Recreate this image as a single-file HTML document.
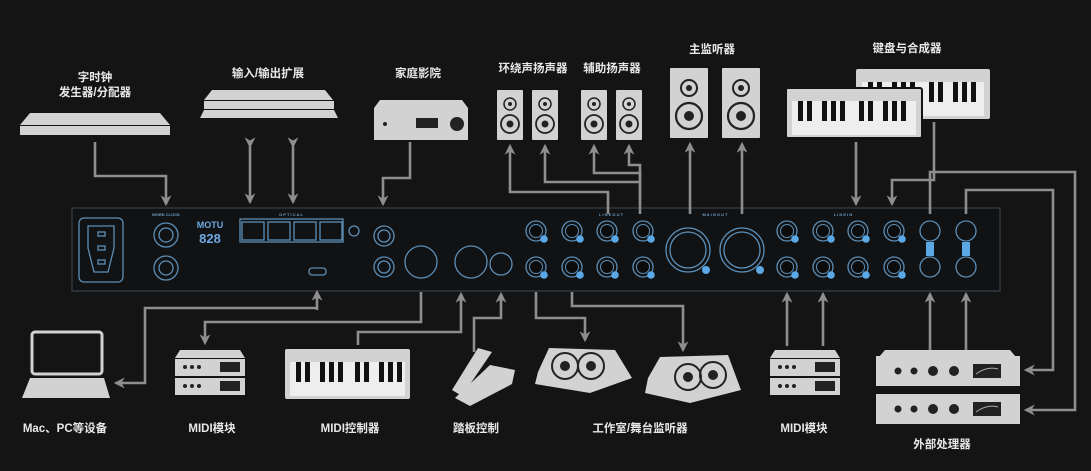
<!DOCTYPE html>
<html><head><meta charset="utf-8"><style>
html,body{margin:0;padding:0;background:#141414;}
svg{display:block}
text{font-family:"Liberation Sans","Noto Sans CJK SC",sans-serif;font-weight:bold;fill:#e8e8e8;font-size:11.5px;text-anchor:middle}
.l{stroke:#8e8e8e;stroke-width:2.6;fill:none}
.d{fill:#d2d2d2}
.b{stroke:#5c8fb8;stroke-width:1.3;fill:none}
.s{font-size:4px;fill:#6fa0c8}
</style></head><body>
<svg width="1091" height="471" viewBox="0 0 1091 471" xmlns="http://www.w3.org/2000/svg">
<defs>
<marker id="a" viewBox="0 0 10 10" refX="8" refY="5" markerWidth="4.2" markerHeight="4.2" orient="auto"><path d="M0,0 L10,5 L0,10 L3,5z" fill="#8e8e8e"/></marker>
<g id="jack"><circle r="10" class="b" stroke-width="1.8"/><circle r="6.5" fill="#0c0c0c" stroke="#5c8fb8" stroke-width="1"/><circle cx="8" cy="8" r="3.8" fill="#5aa8e6"/></g>
<g id="rack2"><path d="M5,0 H65 L70,8 H0z" class="d"/><rect x="0" y="9" width="70" height="17" class="d"/><rect x="0" y="28" width="70" height="17" class="d"/><circle cx="10" cy="17" r="2" fill="#222"/><circle cx="17" cy="17" r="2" fill="#222"/><circle cx="24" cy="17" r="2" fill="#222"/><rect x="45" y="12" width="20" height="10" fill="#222"/><circle cx="10" cy="36" r="2" fill="#222"/><circle cx="17" cy="36" r="2" fill="#222"/><circle cx="24" cy="36" r="2" fill="#222"/><rect x="45" y="31" width="20" height="10" fill="#222"/></g>
<g id="spk"><rect width="26" height="50" class="d" rx="1"/><circle cx="13" cy="14" r="6" fill="none" stroke="#222" stroke-width="1.5"/><circle cx="13" cy="14" r="2" fill="#222"/><circle cx="13" cy="34" r="9" fill="none" stroke="#222" stroke-width="1.8"/><circle cx="13" cy="34" r="3.5" fill="#222"/></g>
<g id="bigspk"><rect width="38" height="70" class="d" rx="1"/><circle cx="19" cy="20" r="8" fill="none" stroke="#222" stroke-width="2"/><circle cx="19" cy="20" r="3" fill="#222"/><circle cx="19" cy="48" r="13" fill="none" stroke="#222" stroke-width="2.2"/><circle cx="19" cy="48" r="5" fill="#222"/></g>
<g id="proc"><rect width="144" height="30" class="d"/><circle cx="22" cy="15" r="3.5" fill="#222"/><circle cx="38" cy="15" r="3.5" fill="#222"/><circle cx="57" cy="15" r="5" fill="#222"/><circle cx="78" cy="15" r="5" fill="#222"/><rect x="97" y="8" width="28" height="14" fill="#222"/><path d="M100,18 Q111,10 122,13" stroke="#aaa" fill="none"/></g>
</defs>

<!-- Panel -->
<rect x="72" y="208" width="928" height="83" fill="#101214" stroke="#3a4048" stroke-width="1.2"/>
<rect x="79" y="218" width="44" height="64" rx="5" class="b"/>
<path d="M88,226 H114 V248 L108,272 H94 L88,248z" class="b"/>
<rect x="98" y="232" width="7" height="4" class="b"/><rect x="98" y="246" width="7" height="4" class="b"/><rect x="98" y="260" width="7" height="4" class="b"/>
<circle cx="166" cy="235" r="12" class="b"/><circle cx="166" cy="235" r="7" class="b"/><circle cx="166" cy="268" r="12" class="b"/><circle cx="166" cy="268" r="7" class="b"/>
<text x="166" y="216" class="s">WORD CLOCK</text>
<text x="210" y="228" style="font-size:9px;fill:#6fa8e0">MOTU</text>
<text x="210" y="243" style="font-size:13px;fill:#6fa8e0">828</text>
<rect x="240" y="219" width="103" height="23" class="b" stroke-width="0.8"/>
<rect x="242" y="222" width="22" height="18" class="b"/><rect x="268" y="222" width="22" height="18" class="b"/><rect x="294" y="222" width="22" height="18" class="b"/><rect x="320" y="222" width="22" height="18" class="b"/>
<circle cx="354" cy="231" r="5" class="b"/>
<text x="291" y="216" class="s">O P T I C A L</text>
<rect x="309" y="268" width="17" height="7" rx="3" class="b"/>
<circle cx="384" cy="236" r="10" class="b"/><circle cx="384" cy="236" r="6" class="b"/>
<circle cx="384" cy="267" r="10" class="b"/><circle cx="384" cy="267" r="6" class="b"/>
<circle cx="421" cy="262" r="16" class="b"/><circle cx="471" cy="262" r="16" class="b"/>
<circle cx="501" cy="264" r="11" class="b"/>
<text x="611" y="216" class="s">L I N E  O U T</text>
<text x="715" y="216" class="s">M A I N  O U T</text>
<text x="843" y="216" class="s">L I N E  I N</text>
<use href="#jack" x="536" y="231"/><use href="#jack" x="572" y="231"/><use href="#jack" x="607" y="231"/><use href="#jack" x="643" y="231"/>
<use href="#jack" x="536" y="267"/><use href="#jack" x="572" y="267"/><use href="#jack" x="607" y="267"/><use href="#jack" x="643" y="267"/>
<circle cx="688" cy="250" r="22" class="b"/><circle cx="688" cy="250" r="18" class="b"/><circle cx="742" cy="250" r="22" class="b"/><circle cx="742" cy="250" r="18" class="b"/>
<circle cx="706" cy="270" r="4" fill="#5aa8e6"/><circle cx="760" cy="270" r="4" fill="#5aa8e6"/>
<use href="#jack" x="787" y="231"/><use href="#jack" x="823" y="231"/><use href="#jack" x="858" y="231"/><use href="#jack" x="894" y="231"/>
<use href="#jack" x="787" y="267"/><use href="#jack" x="823" y="267"/><use href="#jack" x="858" y="267"/><use href="#jack" x="894" y="267"/>
<circle cx="930" cy="231" r="10" class="b"/><circle cx="966" cy="231" r="10" class="b"/><circle cx="930" cy="267" r="10" class="b"/><circle cx="966" cy="267" r="10" class="b"/>
<rect x="926" y="242" width="8" height="14" fill="#5aa8e6"/><rect x="962" y="242" width="8" height="14" fill="#5aa8e6"/>

<!-- Top devices -->
<text x="95" y="81">字时钟</text><text x="95" y="96">发生器/分配器</text>
<path d="M30,113 H160 L170,125 H20z" class="d"/><rect x="20" y="126" width="150" height="9" class="d"/>
<text x="268" y="77">输入/输出扩展</text>
<path d="M212,90 H325 L333,100 H204z" class="d"/><rect x="204" y="101" width="130" height="8" class="d"/><path d="M204,110 H334 L338,118 H200z" class="d"/>
<text x="418" y="77">家庭影院</text>
<path d="M380,100 H462 L468,108 H374z" class="d"/><rect x="374" y="108" width="94" height="32" class="d"/><circle cx="457" cy="124" r="7" fill="#222"/><rect x="416" y="118" width="22" height="10" fill="#222"/><circle cx="385" cy="124" r="2" fill="#222"/>
<text x="533" y="72">环绕声扬声器</text><text x="612" y="72">辅助扬声器</text><text x="712" y="53">主监听器</text><text x="907" y="52">键盘与合成器</text>
<use href="#spk" x="497" y="90"/><use href="#spk" x="532" y="90"/><use href="#spk" x="581" y="90"/><use href="#spk" x="616" y="90"/>
<use href="#bigspk" x="670" y="68"/><use href="#bigspk" x="722" y="68"/>
<rect x="856" y="69" width="134" height="50" class="d" rx="2"/>
<rect x="862" y="82" width="122" height="34" fill="#eee"/>
<g fill="#111"><rect x="868" y="82" width="5" height="20"/><rect x="877" y="82" width="5" height="20"/><rect x="892" y="82" width="5" height="20"/><rect x="901" y="82" width="5" height="20"/><rect x="910" y="82" width="5" height="20"/><rect x="929" y="82" width="5" height="20"/><rect x="938" y="82" width="5" height="20"/><rect x="953" y="82" width="5" height="20"/><rect x="962" y="82" width="5" height="20"/><rect x="971" y="82" width="5" height="20"/></g>
<rect x="786" y="88" width="136" height="50" class="d" rx="2" stroke="#141414" stroke-width="2"/>
<rect x="792" y="101" width="124" height="34" fill="#eee"/>
<g fill="#111"><rect x="798" y="101" width="5" height="20"/><rect x="807" y="101" width="5" height="20"/><rect x="822" y="101" width="5" height="20"/><rect x="831" y="101" width="5" height="20"/><rect x="840" y="101" width="5" height="20"/><rect x="859" y="101" width="5" height="20"/><rect x="868" y="101" width="5" height="20"/><rect x="883" y="101" width="5" height="20"/><rect x="892" y="101" width="5" height="20"/><rect x="901" y="101" width="5" height="20"/></g>

<!-- Top connectors -->
<path class="l" d="M95,142 V176 H166 V204" marker-end="url(#a)"/>
<path class="l" d="M250,146 V202" marker-start="url(#a)" marker-end="url(#a)"/>
<path class="l" d="M293,146 V202" marker-start="url(#a)" marker-end="url(#a)"/>
<path class="l" d="M410,142 V178 H383 V204" marker-end="url(#a)"/>
<path class="l" d="M608,214 V192 H510 V146" marker-end="url(#a)"/>
<path class="l" d="M640,214 V182 H545 V146" marker-end="url(#a)"/>
<path class="l" d="M640,200 V173 H594 V146" marker-end="url(#a)"/>
<path class="l" d="M640,180 V165 H629 V146" marker-end="url(#a)"/>
<path class="l" d="M690,214 V144" marker-end="url(#a)"/>
<path class="l" d="M742,214 V144" marker-end="url(#a)"/>
<path class="l" d="M856,142 V204" marker-end="url(#a)"/>
<path class="l" d="M934,122 V180 H892 V204" marker-end="url(#a)"/>
<path class="l" d="M930,214 V172 H1075 V410 H1026" marker-end="url(#a)"/>
<path class="l" d="M966,214 V190 H1053 V370 H1026" marker-end="url(#a)"/>

<!-- Bottom connectors -->
<path class="l" d="M317,308 H145 V383 H116" marker-end="url(#a)"/>
<path class="l" d="M317,310 V292" marker-end="url(#a)"/>
<path class="l" d="M421,292 V322 H205 V343" marker-end="url(#a)"/>
<path class="l" d="M358,345 V332 H461 V294" marker-end="url(#a)"/>
<path class="l" d="M474,352 V318 H501 V294" marker-end="url(#a)"/>
<path class="l" d="M536,292 V318 H585 V340" marker-end="url(#a)"/>
<path class="l" d="M572,292 V306 H683 V350" marker-end="url(#a)"/>
<path class="l" d="M787,346 V294" marker-end="url(#a)"/>
<path class="l" d="M823,346 V294" marker-end="url(#a)"/>
<path class="l" d="M930,350 V294" marker-end="url(#a)"/>
<path class="l" d="M966,350 V294" marker-end="url(#a)"/>

<!-- Bottom devices -->
<rect x="32" y="332" width="70" height="42" rx="3" fill="none" stroke="#d2d2d2" stroke-width="3"/>
<path d="M30,378 H104 L110,398 H22z" class="d"/>
<text x="65" y="432">Mac、PC等设备</text>
<use href="#rack2" x="175" y="350"/>
<text x="212" y="432">MIDI模块</text>
<rect x="285" y="349" width="125" height="50" class="d" rx="2"/>
<rect x="290" y="362" width="115" height="34" fill="#eee"/>
<g fill="#111"><rect x="296" y="362" width="5" height="20"/><rect x="305" y="362" width="5" height="20"/><rect x="320" y="362" width="5" height="20"/><rect x="329" y="362" width="5" height="20"/><rect x="338" y="362" width="5" height="20"/><rect x="355" y="362" width="5" height="20"/><rect x="364" y="362" width="5" height="20"/><rect x="379" y="362" width="5" height="20"/><rect x="388" y="362" width="5" height="20"/><rect x="397" y="362" width="5" height="20"/></g>
<text x="350" y="432">MIDI控制器</text>
<path d="M478,348 L492,352 L462,396 L452,390z" class="d"/><path d="M490,365 L515,370 L512,384 L470,406 L455,398z" class="d"/>
<text x="476" y="432">踏板控制</text>
<path d="M549,348 L615,350 L632,378 L590,393 L535,384 L538,372z" class="d"/>
<circle cx="565" cy="366" r="13" fill="none" stroke="#222" stroke-width="2"/><circle cx="565" cy="366" r="5" fill="#222"/><circle cx="591" cy="366" r="13" fill="none" stroke="#222" stroke-width="2"/><circle cx="591" cy="366" r="5" fill="#222"/>
<path d="M660,357 L728,355 L741,390 L690,403 L645,393 L648,378z" class="d"/>
<circle cx="688" cy="377" r="13" fill="none" stroke="#222" stroke-width="2"/><circle cx="688" cy="377" r="5" fill="#222"/><circle cx="713" cy="375" r="13" fill="none" stroke="#222" stroke-width="2"/><circle cx="713" cy="375" r="5" fill="#222"/>
<text x="640" y="432">工作室/舞台监听器</text>
<use href="#rack2" x="770" y="350"/>
<text x="804" y="432">MIDI模块</text>
<path d="M885,350 H1010 L1016,357 H879z" class="d"/>
<use href="#proc" x="876" y="356"/><use href="#proc" x="876" y="394"/>
<text x="942" y="448">外部处理器</text>
</svg>
</body></html>
